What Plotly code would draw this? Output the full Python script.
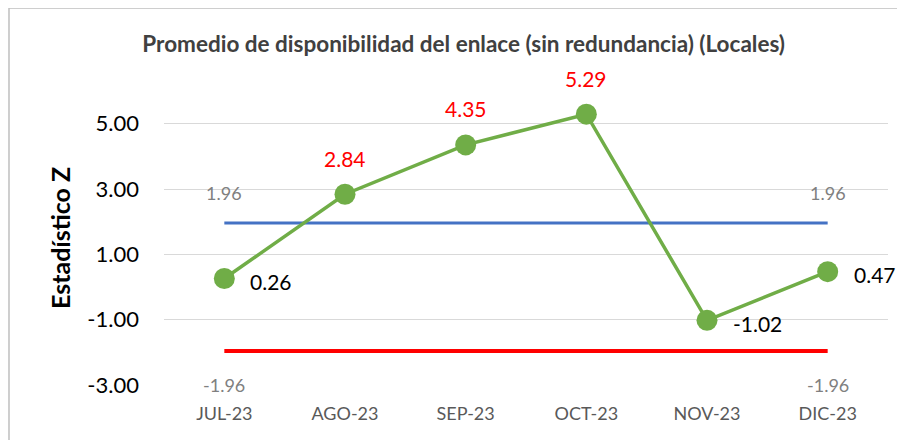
import plotly.graph_objects as go

months = ["JUL-23", "AGO-23", "SEP-23", "OCT-23", "NOV-23", "DIC-23"]
z_values = [0.26, 2.84, 4.35, 5.29, -1.02, 0.47]
upper_limit = [1.96] * 6
lower_limit = [-1.96] * 6
label_colors = ["black", "red", "red", "red", "black", "black"]
label_side = ["right", "top", "top", "top", "right", "right"]
y_ticks = [-3, -1, 1, 3, 5]
y_tick_text = ["-3.00", "-1.00", "1.00", "3.00", "5.00"]

FONT = "Lato, Open Sans, sans-serif"

fig = go.Figure()
fig.add_trace(go.Scatter(x=months, y=upper_limit, mode="lines",
                         line=dict(color="#4472C4", width=3), hoverinfo="skip"))
fig.add_trace(go.Scatter(x=months, y=lower_limit, mode="lines",
                         line=dict(color="#FF0000", width=4), hoverinfo="skip"))
fig.add_trace(go.Scatter(x=months, y=z_values, mode="lines+markers",
                         line=dict(color="#70AD47", width=3.5),
                         marker=dict(color="#70AD47", size=21), hoverinfo="skip"))

ann = []
for m, v, c, s in zip(months, z_values, label_colors, label_side):
    txt = f"{v:.2f}"
    if s == "right":
        ann.append(dict(x=m, y=v, xref="x", yref="y", text=txt, showarrow=False,
                        xanchor="left", yanchor="middle", xshift=24, yshift=-3,
                        font=dict(family=FONT, size=21, color=c)))
    else:
        ann.append(dict(x=m, y=v, xref="x", yref="y", text=txt, showarrow=False,
                        xanchor="center", yanchor="middle", yshift=36,
                        font=dict(family=FONT, size=21, color=c)))

for idx in (0, len(months) - 1):
    ann.append(dict(x=months[idx], y=upper_limit[idx], xref="x", yref="y",
                    text=f"{upper_limit[idx]:.2f}", showarrow=False,
                    xanchor="center", yanchor="middle", yshift=30,
                    font=dict(family=FONT, size=18, color="#808080")))
    ann.append(dict(x=months[idx], y=lower_limit[idx], xref="x", yref="y",
                    text=f"{lower_limit[idx]:.2f}", showarrow=False,
                    xanchor="center", yanchor="middle", yshift=-34,
                    font=dict(family=FONT, size=18, color="#808080")))

ann.append(dict(x=-0.1436, y=0.5, xref="paper", yref="paper", text="<b>Estadístico Z</b>",
                showarrow=False, textangle=-90, xanchor="center", yanchor="middle",
                font=dict(family=FONT, size=25, color="black")))

fig.update_layout(
    width=897, height=432,
    margin=dict(l=156, r=17, t=83, b=55),
    paper_bgcolor="white", plot_bgcolor="white",
    showlegend=False,
    title=dict(text="<b>Promedio de disponibilidad del enlace (sin redundancia) (Locales)</b>",
               x=0.508, xanchor="center", y=0.917, yanchor="middle", yref="container",
               font=dict(family=FONT, size=22.5, color="#404040")),
    annotations=ann,
    shapes=[dict(type="rect", xref="paper", yref="paper",
                 x0=-0.2141, x1=1.05, y0=-0.25, y1=1.2823,
                 line=dict(color="#BFBFBF", width=1.5), fillcolor="rgba(0,0,0,0)", layer="below")],
)
fig.update_xaxes(range=[-0.5, 5.5], showgrid=False, showline=False, zeroline=False,
                 ticks="", ticklabelstandoff=16,
                 tickfont=dict(family=FONT, size=18, color="#595959"))
fig.update_yaxes(range=[-3, 6], tickvals=y_ticks, ticktext=y_tick_text,
                 showgrid=True, gridcolor="#D9D9D9", gridwidth=1,
                 zeroline=False, showline=False, ticks="", ticklabelstandoff=24,
                 tickfont=dict(family=FONT, size=22, color="black"))

fig.write_html("out.html")
